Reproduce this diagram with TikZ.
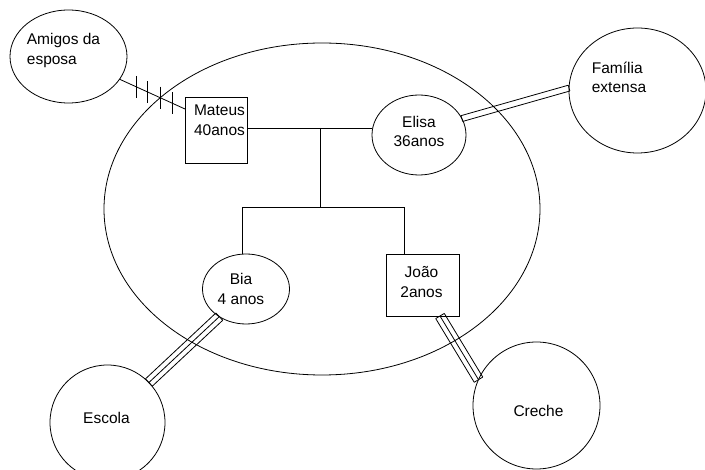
\documentclass[tikz,border=0pt]{standalone}
\usepackage{fontspec}
\setmainfont{Liberation Sans}
\usetikzlibrary{calc,shapes.geometric}
\tikzset{
  ln/.style={line width=0.8pt, black},
  ov/.style={ellipse, draw, ln, inner sep=0pt, outer sep=0pt},
  bx/.style={rectangle, draw, ln, inner sep=0pt, outer sep=0pt},
  tx/.style={font=\fontsize{15.5}{19.5}\selectfont, align=center, inner sep=0pt},
}
% #1 start, #2 end, #3 list of offsets, #4 half width of the end caps
\newcommand\multilink[4]{%
  \foreach \o in {#3}{\draw[ln] ($(#1)!\o!90:(#2)$) -- ($(#2)!\o!-90:(#1)$);}
  \draw[ln] ($(#1)!#4!90:(#2)$) -- ($(#1)!#4!-90:(#2)$);
  \draw[ln] ($(#2)!#4!90:(#1)$) -- ($(#2)!#4!-90:(#1)$);
}
\begin{document}
\begin{tikzpicture}[x=1pt,y=-1pt]
\useasboundingbox (0,0) rectangle (705,470);
\clip (0,0) rectangle (705,470);

\node[ov, minimum width=436pt, minimum height=332pt] (casa) at (322,209) {};

\node[ov, minimum width=117pt, minimum height=93pt,
  label={[name=tA, tx, align=left, shift={(-5,-6)}]center:Amigos da\\esposa}] (amigos) at (68.5,56.5) {};
\node[ov, minimum width=137pt, minimum height=125pt,
  label={[name=tF, tx, align=left, shift={(-18.5,-13)}]center:Família\\extensa}] (familia) at (637.5,90.5) {};
\node[bx, minimum width=62pt, minimum height=66pt,
  label={[name=tM, tx, align=left, shift={(3.5,-10)}]center:Mateus\\40anos}] (mateus) at (216,130) {};
\node[ov, minimum width=94pt, minimum height=80pt,
  label={[name=tE, tx, shift={(0,-3.5)}]center:Elisa\\36anos}] (elisa) at (419,135) {};
\node[ov, minimum width=87pt, minimum height=70pt,
  label={[name=tB, tx, shift={(-5,0)}]center:Bia\\4 anos}] (bia) at (246,289) {};
\node[bx, minimum width=73pt, minimum height=62pt,
  label={[name=tJ, tx, shift={(-1,-3)}]center:João\\2anos}] (joao) at (422.5,285) {};
\node[ov, minimum width=115pt, minimum height=115pt,
  label={[name=tS, tx, shift={(-1,-5)}]center:Escola}] (escola) at (107.5,422.5) {};
\node[ov, minimum width=127pt, minimum height=127pt,
  label={[name=tC, tx, shift={(2,5.5)}]center:Creche}] (creche) at (536.5,405.5) {};

% family tree
\coordinate (j1) at (320,128);
\coordinate (j2) at (320,207);
\coordinate (jb) at (242,207);
\coordinate (jj) at (404,207);
\draw[ln] (mateus.east |- j1) -- (j1 -| elisa.west);
\draw[ln] (j1) -- (j2);
\draw[ln] (jb |- bia.north) -- (jb) -- (jj) -- (jj |- joao.north);

% conflictual link
\coordinate (a1) at (amigos.-24.5);
\coordinate (a2) at ([yshift=21pt]mateus.west);
\draw[ln] (a1) -- (a2);
\foreach \p in {0.26,0.43,0.62,0.80}
  \draw[ln] ($(a1)!\p!(a2)$) ++(0,-11) -- ++(0,22);

% strong links
\multilink{elisa.21}{familia.178}{-3pt,3pt}{3pt}
\multilink{bia.-134}{escola.44}{-5pt,0pt,5pt}{5pt}
\coordinate (jc) at ([xshift=17.5pt]joao.south);
\multilink{jc}{creche.156}{-5pt,0pt,5pt}{5pt}
\end{tikzpicture}
\end{document}
